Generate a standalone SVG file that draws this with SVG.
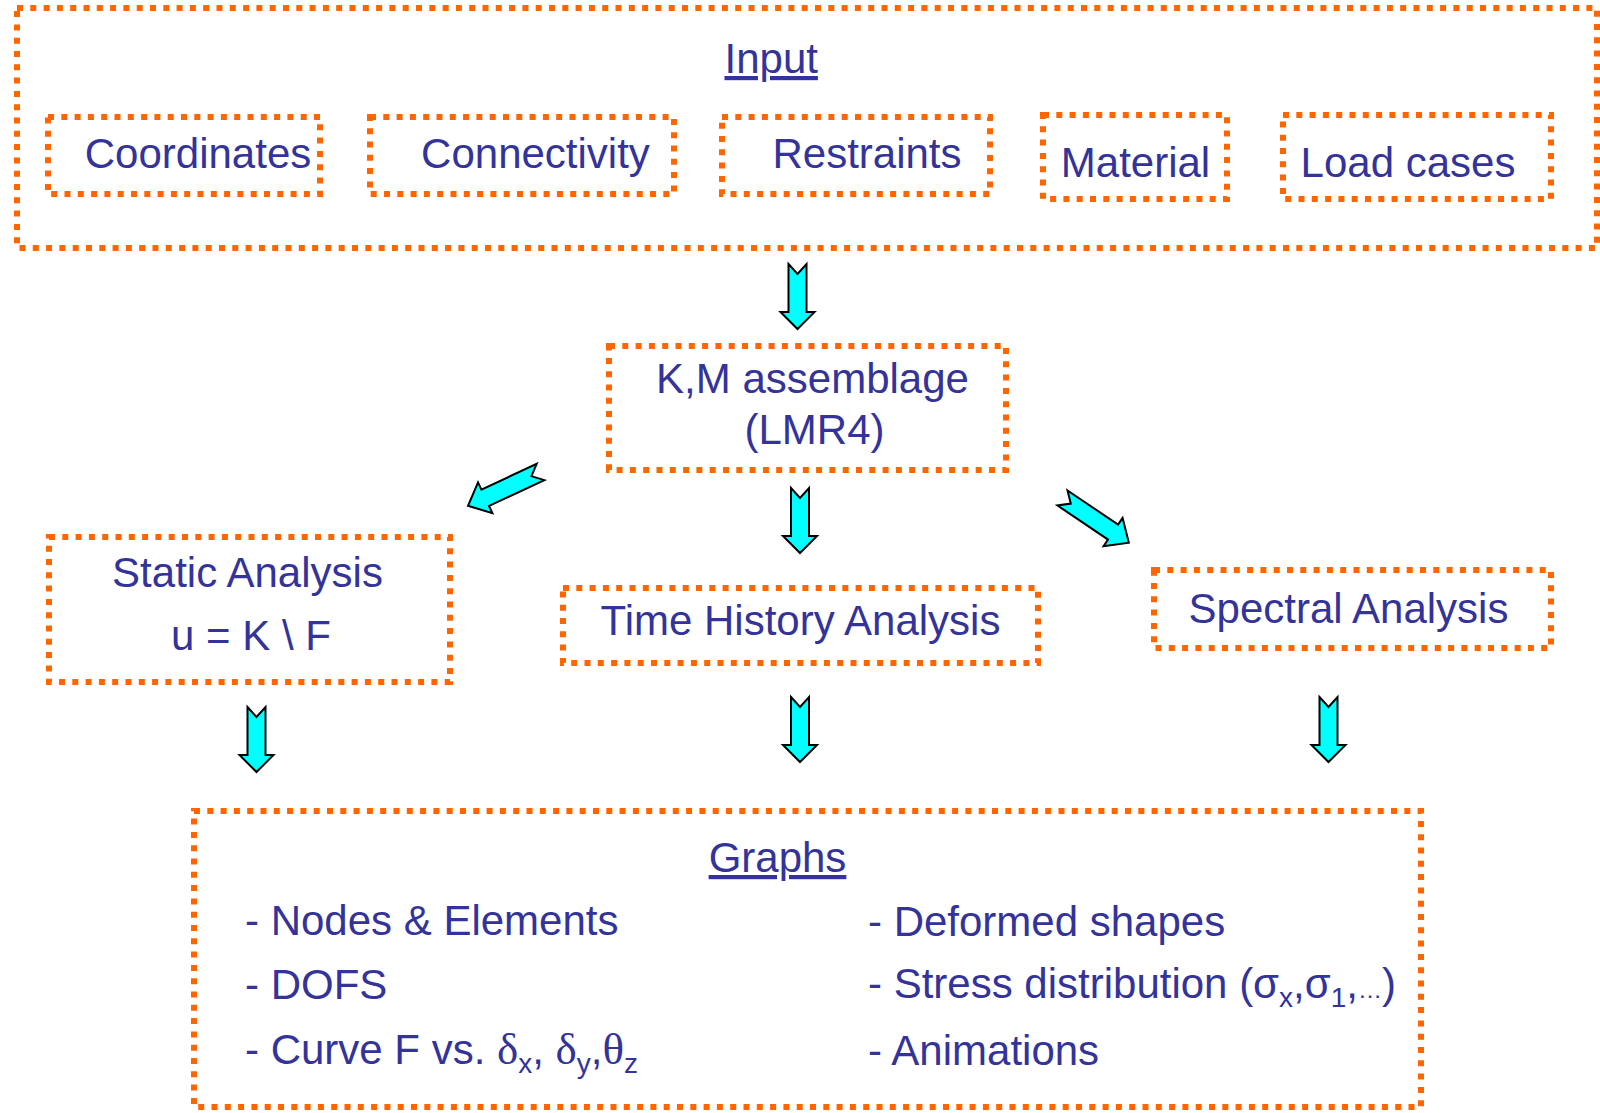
<svg xmlns="http://www.w3.org/2000/svg" xmlns:xlink="http://www.w3.org/1999/xlink" width="1600" height="1113" viewBox="0 0 1600 1113">
<style>
.box{fill:none;stroke:#FF6600;stroke-width:6;stroke-dasharray:6 7.3}
.t{font-family:"Liberation Sans",Arial,sans-serif;font-size:42px;fill:#333399}
.m{text-anchor:middle}
.u{text-decoration:underline}
.g{font-family:"Liberation Serif","Times New Roman",serif;font-size:45px}
.s{font-size:28px}
.e{font-size:24px}
.arr{fill:#00FFFF;stroke:#000;stroke-width:2;stroke-linejoin:miter}
</style>
<defs>
<path id="ad" class="arr" d="M-9,0 L0,10 L9,0 L9,48 L17,48 L0,65 L-17,48 L-9,48 Z"/>
<path id="ag" class="arr" d="M0,-9 L10,0 L0,9 L61,9 L61,17 L80,0 L61,-17 L61,-9 Z"/>
</defs>
<rect width="1600" height="1113" fill="#fff"/>
<g id="input">
<rect class="box" x="17" y="8" width="1580" height="240"/>
<text class="t u" x="724.5" y="73">Input</text>
</g>
<g id="coordinates">
<rect class="box" x="48" y="117" width="272" height="77"/>
<text class="t m" x="198" y="168">Coordinates</text>
</g>
<g id="connectivity">
<rect class="box" x="370" y="117" width="304" height="77"/>
<text class="t m" x="535.5" y="168">Connectivity</text>
</g>
<g id="restraints">
<rect class="box" x="722" y="117" width="268" height="77"/>
<text class="t m" x="867" y="168">Restraints</text>
</g>
<g id="material">
<rect class="box" x="1043" y="115" width="184" height="84"/>
<text class="t m" x="1135.5" y="177">Material</text>
</g>
<g id="loadcases">
<rect class="box" x="1283" y="115" width="268" height="84"/>
<text class="t m" x="1408" y="177">Load cases</text>
</g>
<g id="assemblage">
<rect class="box" x="609" y="346" width="397" height="124"/>
<text class="t m" x="812.5" y="393">K,M assemblage</text>
<text class="t m" x="814.5" y="444">(LMR4)</text>
</g>
<g id="static">
<rect class="box" x="49" y="537" width="401" height="145"/>
<text class="t m" x="247.5" y="587">Static Analysis</text>
<text class="t m" x="251" y="650">u = K \ F</text>
</g>
<g id="timehistory">
<rect class="box" x="563" y="588" width="475" height="75"/>
<text class="t m" x="800.5" y="635">Time History Analysis</text>
</g>
<g id="spectral">
<rect class="box" x="1154" y="570" width="397" height="78"/>
<text class="t m" x="1348.5" y="623">Spectral Analysis</text>
</g>
<g id="graphs">
<rect class="box" x="194" y="811" width="1227" height="296"/>
<text class="t u m" x="777.5" y="872">Graphs</text>
<text class="t" x="245" y="935">- Nodes &amp; Elements</text>
<text class="t" x="245" y="999">- DOFS</text>
<text class="t" x="245" y="1064" xml:space="preserve">- Curve F vs. <tspan class="g">δ</tspan><tspan class="s" dy="9">x</tspan><tspan dy="-9">, </tspan><tspan class="g">δ</tspan><tspan class="s" dy="9">y</tspan><tspan dy="-9">,</tspan><tspan class="g">θ</tspan><tspan class="s" dy="9">z</tspan></text>
<text class="t" x="868" y="936">- Deformed shapes</text>
<text class="t" x="868" y="998">- Stress distribution (σ<tspan class="s" dy="9">x</tspan><tspan dy="-9">,σ</tspan><tspan class="s" dy="9">1</tspan><tspan dy="-9">,</tspan><tspan class="e">…</tspan>)</text>
<text class="t" x="868" y="1065">- Animations</text>
</g>
<g id="connectors">
<use xlink:href="#ad" x="797.5" y="264"/>
<use xlink:href="#ag" transform="translate(540.5,472) rotate(155)"/>
<use xlink:href="#ad" x="800" y="488"/>
<use xlink:href="#ag" transform="translate(1062.5,498) rotate(34)"/>
<use xlink:href="#ad" x="256.5" y="707"/>
<use xlink:href="#ad" x="800" y="697"/>
<use xlink:href="#ad" x="1328.5" y="697"/>
</g>
</svg>
